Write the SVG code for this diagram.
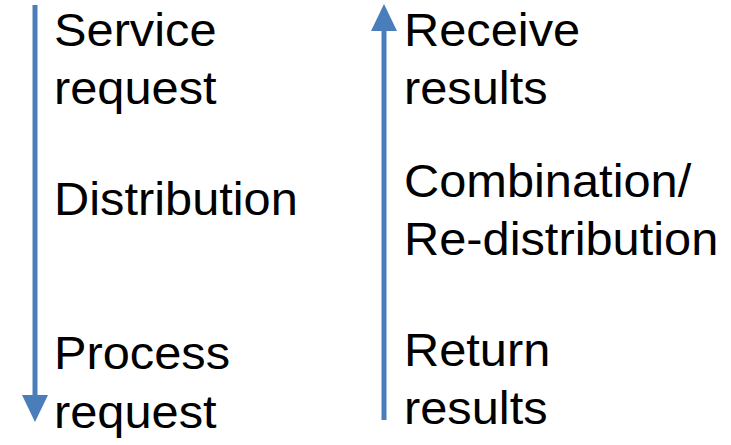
<svg xmlns="http://www.w3.org/2000/svg" width="731" height="445" viewBox="0 0 731 445">
  <defs>
    <marker id="head" markerUnits="userSpaceOnUse" viewBox="0 -13 27 26" markerWidth="27" markerHeight="26" refX="0" refY="0" orient="auto">
      <path d="M0,-13 L27,0 L0,13 z" fill="#4a7ebb"/>
    </marker>
    <style>
      .lbl { font-family: "Liberation Sans", Arial, sans-serif; font-size: 46px; fill: #000; }
      .arrow { stroke: #4a7ebb; stroke-width: 5; fill: none; marker-end: url(#head); }
    </style>
  </defs>
  <rect width="731" height="445" fill="#fff"/>
  <g id="connectors">
    <path class="arrow" d="M35,5 L35,395"/>
    <path class="arrow" d="M384,420 L384,31"/>
  </g>
  <g id="service-request" transform="translate(54,0) scale(1.06,1)">
    <text class="lbl" x="0" y="46">Service</text>
    <text class="lbl" x="0" y="104">request</text>
  </g>
  <g id="distribution" transform="translate(54,0) scale(1.06,1)">
    <text class="lbl" x="0" y="215">Distribution</text>
  </g>
  <g id="process-request" transform="translate(54,0) scale(1.06,1)">
    <text class="lbl" x="0" y="369">Process</text>
    <text class="lbl" x="0" y="428">request</text>
  </g>
  <g id="receive-results" transform="translate(404,0) scale(1.06,1)">
    <text class="lbl" x="0" y="46">Receive</text>
    <text class="lbl" x="0" y="104">results</text>
  </g>
  <g id="combination" transform="translate(404,0) scale(1.06,1)">
    <text class="lbl" x="0" y="197">Combination/</text>
    <text class="lbl" x="0" y="255">Re-distribution</text>
  </g>
  <g id="return-results" transform="translate(404,0) scale(1.06,1)">
    <text class="lbl" x="0" y="366">Return</text>
    <text class="lbl" x="0" y="424">results</text>
  </g>
</svg>
